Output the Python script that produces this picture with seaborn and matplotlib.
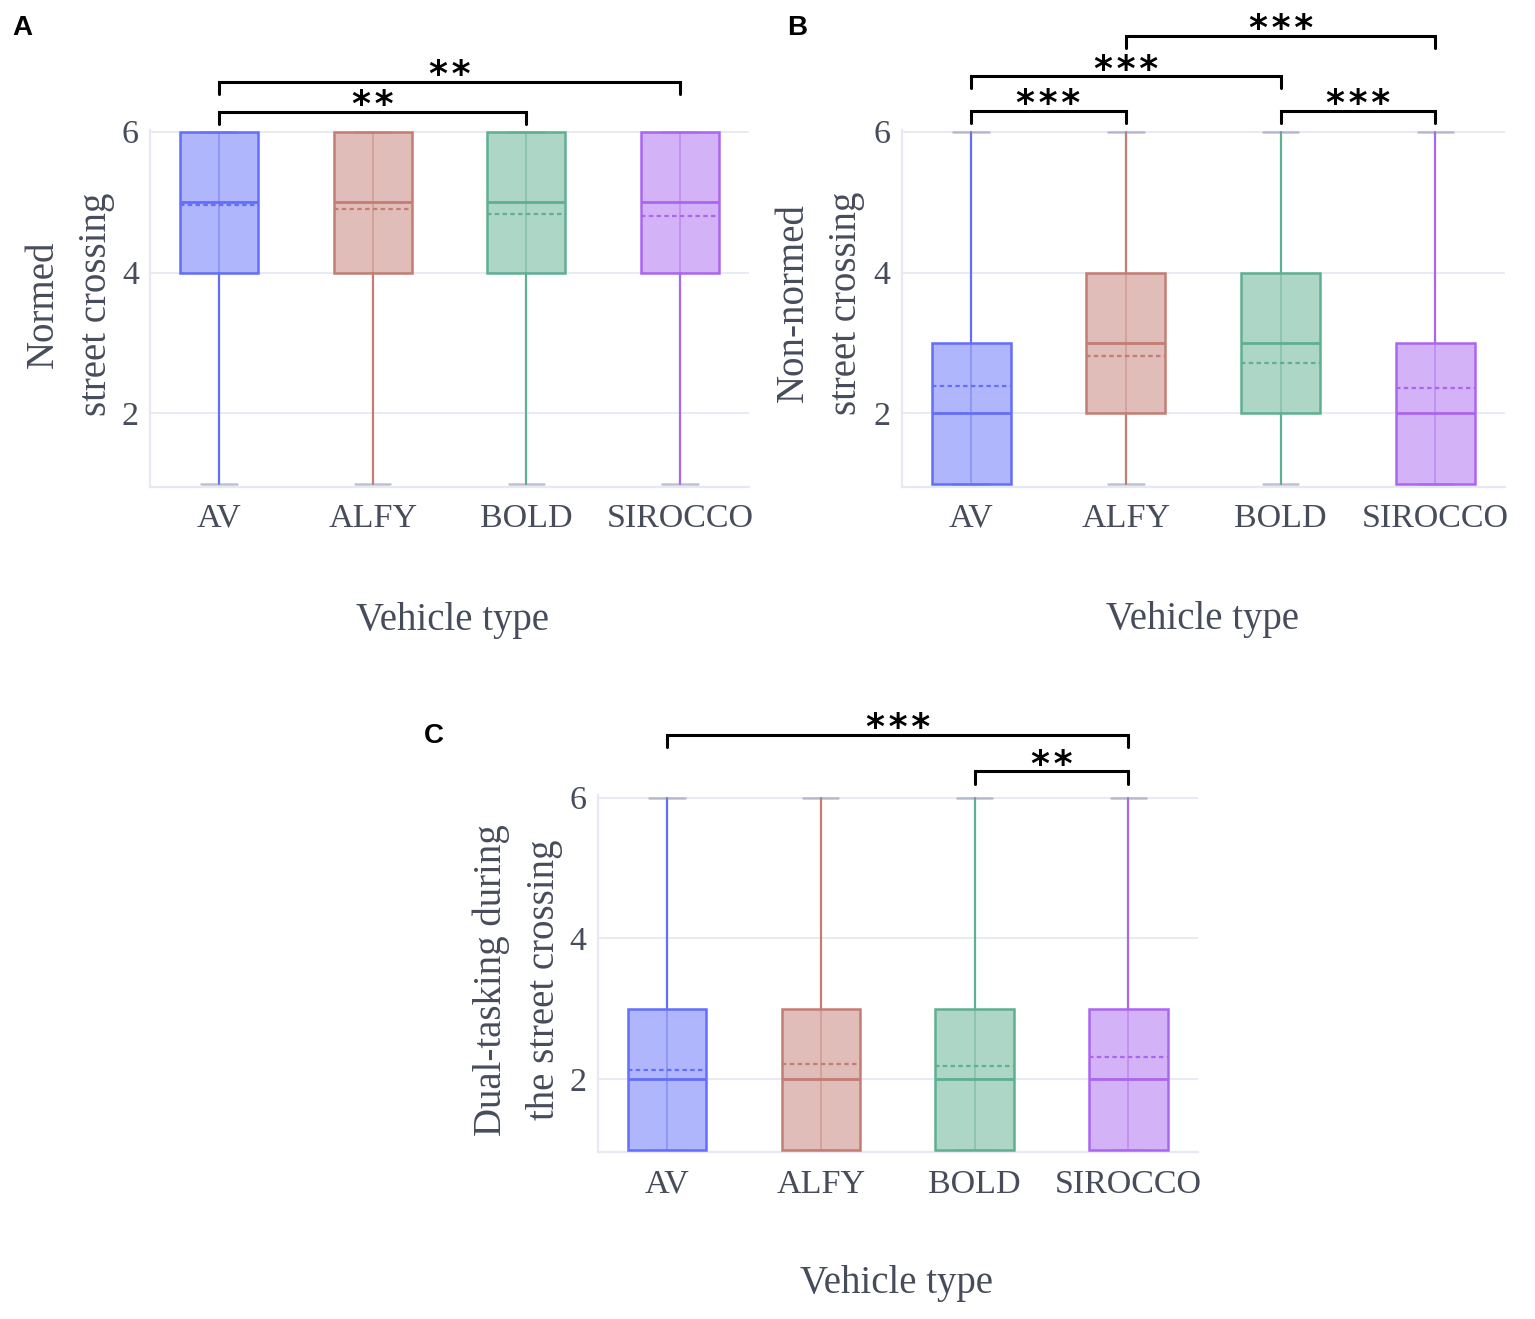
import matplotlib
matplotlib.use("Agg")
import matplotlib.pyplot as plt
import seaborn as sns
from matplotlib.colors import to_rgba

# ---------------- data ----------------
vehicles = ["AV", "ALFY", "BOLD", "SIROCCO"]
box_colors = ["#636EFA", "#C37D73", "#5FAF91", "#AB66F0"]

# Panel A: Normed street crossing
a_min = [1, 1, 1, 1]
a_q1 = [4, 4, 4, 4]
a_med = [5, 5, 5, 5]
a_q3 = [6, 6, 6, 6]
a_max = [6, 6, 6, 6]
a_mean = [4.96, 4.90, 4.83, 4.81]

# Panel B: Non-normed street crossing
b_min = [1, 1, 1, 1]
b_q1 = [1, 2, 2, 1]
b_med = [2, 3, 3, 2]
b_q3 = [3, 4, 4, 3]
b_max = [6, 6, 6, 6]
b_mean = [2.39, 2.82, 2.72, 2.36]

# Panel C: Dual-tasking during the street crossing
c_min = [1, 1, 1, 1]
c_q1 = [1, 1, 1, 1]
c_med = [2, 2, 2, 2]
c_q3 = [3, 3, 3, 3]
c_max = [6, 6, 6, 6]
c_mean = [2.13, 2.22, 2.19, 2.32]

# significance brackets: (from index, to index, level, label)
a_sig = [(0, 2, 6.285, "**"), (0, 3, 6.71, "**")]
b_sig = [(0, 1, 6.30, "***"), (0, 2, 6.79, "***"), (2, 3, 6.30, "***"), (1, 3, 7.36, "***")]
c_sig = [(0, 3, 6.89, "***"), (2, 3, 6.37, "**")]

yticks = [2, 4, 6]

# ---------------- style ----------------
sns.set_theme(style="white")
plt.rcParams["font.family"] = ["Liberation Serif", "DejaVu Serif"]
TXT = "#464c5a"
GRID = "#E6E9F3"

W, H = 1535, 1319
fig = plt.figure(figsize=(W / 100, H / 100), dpi=100)


def px_rect(left, top, right, bottom):
    return [left / W, (H - bottom) / H, (right - left) / W, (bottom - top) / H]


def draw_panel(ax, mn, q1, med, q3, mx, mean, sig):
    stats = []
    for i, name in enumerate(vehicles):
        stats.append(dict(label=name, whislo=mn[i], q1=q1[i], med=med[i],
                          q3=q3[i], whishi=mx[i], mean=mean[i], fliers=[]))
    pos = list(range(len(vehicles)))
    # faint whisker line running through the box (visible under translucent fill)
    ax.vlines(pos, q1, q3, colors=[to_rgba(c, 0.55) for c in box_colors],
              linewidth=1.1, zorder=2)
    bp = ax.bxp(stats, positions=pos, widths=0.51, capwidths=0.23,
                patch_artist=True, showmeans=True, meanline=True,
                showfliers=False, manage_ticks=False)
    for i, c in enumerate(box_colors):
        box = bp["boxes"][i]
        box.set_facecolor(to_rgba(c, 0.5))
        box.set_edgecolor(c)
        box.set_linewidth(1.8)
        box.set_zorder(3)
        m = bp["medians"][i]
        m.set_color(c)
        m.set_linewidth(2.0)
        m.set_zorder(4)
        mn_line = bp["means"][i]
        mn_line.set_color(c)
        mn_line.set_linestyle((0, (2.0, 1.5)))
        mn_line.set_linewidth(1.6)
        mn_line.set_zorder(4)
        for w in bp["whiskers"][2 * i:2 * i + 2]:
            w.set_color(c)
            w.set_linewidth(1.6)
            w.set_zorder(2)
        for cp in bp["caps"][2 * i:2 * i + 2]:
            cp.set_color(to_rgba("#8a8fa8", 0.55))
            cp.set_linewidth(1.8)
            cp.set_zorder(2)

    ax.set_xlim(-0.45, 3.45)
    ax.set_ylim(0.96, 6.03)
    ax.set_yticks(yticks)
    ax.set_yticklabels([str(t) for t in yticks])
    ax.set_xticks(pos)
    ax.set_xticklabels(vehicles)
    ax.grid(False)
    for t in yticks:
        ax.axhline(t, color=GRID, linewidth=1.3, zorder=0)
    for s in ["top", "right"]:
        ax.spines[s].set_visible(False)
    for s in ["left", "bottom"]:
        ax.spines[s].set_color(GRID)
        ax.spines[s].set_linewidth(1.6)
    ax.tick_params(axis="both", length=0, labelsize=24.5, colors=TXT)
    ax.tick_params(axis="y", pad=8)
    ax.tick_params(axis="x", pad=12)
    ax.set_xlabel("")
    ax.set_ylabel("")

    drop = 0.175
    for i, j, lvl, lab in sig:
        ax.plot([i, i, j, j], [lvl - drop, lvl, lvl, lvl - drop], color="black",
                linewidth=2.2, clip_on=False, solid_joinstyle="miter", zorder=5)
        ax.annotate("\u200a".join(lab), xy=((i + j) / 2, lvl), xytext=(0, -2.5),
                    textcoords="offset points", ha="center", va="baseline",
                    fontsize=26, family="DejaVu Sans", fontweight="bold",
                    color="black", annotation_clip=False)


axA = fig.add_axes(px_rect(150, 129.6, 749, 486.6))
draw_panel(axA, a_min, a_q1, a_med, a_q3, a_max, a_mean, a_sig)
axB = fig.add_axes(px_rect(901.6, 129.6, 1505, 486.6))
draw_panel(axB, b_min, b_q1, b_med, b_q3, b_max, b_mean, b_sig)
axC = fig.add_axes(px_rect(597.7, 795.4, 1197.6, 1152.4))
draw_panel(axC, c_min, c_q1, c_med, c_q3, c_max, c_mean, c_sig)

# axis titles
lab_kw = dict(fontsize=28, color=TXT, ha="center", va="center", linespacing=1.55)
fig.text(70 / W, 1 - 304 / H, "Normed\nstreet crossing", rotation=90, **lab_kw)
fig.text(820 / W, 1 - 303 / H, "Non-normed\nstreet crossing", rotation=90, **lab_kw)
fig.text(517.7 / W, 1 - 980 / H, "Dual-tasking during\nthe street crossing", rotation=90, **lab_kw)
fig.text(452 / W, 1 - 620 / H, "Vehicle type", **lab_kw)
fig.text(1202 / W, 1 - 619 / H, "Vehicle type", **lab_kw)
fig.text(897 / W, 1 - 1284 / H, "Vehicle type", **lab_kw)

# panel letters
let_kw = dict(fontsize=20, fontweight="bold", family="Liberation Sans",
              color="black", ha="center", va="center")
fig.text(22 / W, 1 - 28 / H, "A", **let_kw)
fig.text(797 / W, 1 - 28 / H, "B", **let_kw)
fig.text(434 / W, 1 - 736 / H, "C", **let_kw)

fig.savefig("out.png", dpi=100)
